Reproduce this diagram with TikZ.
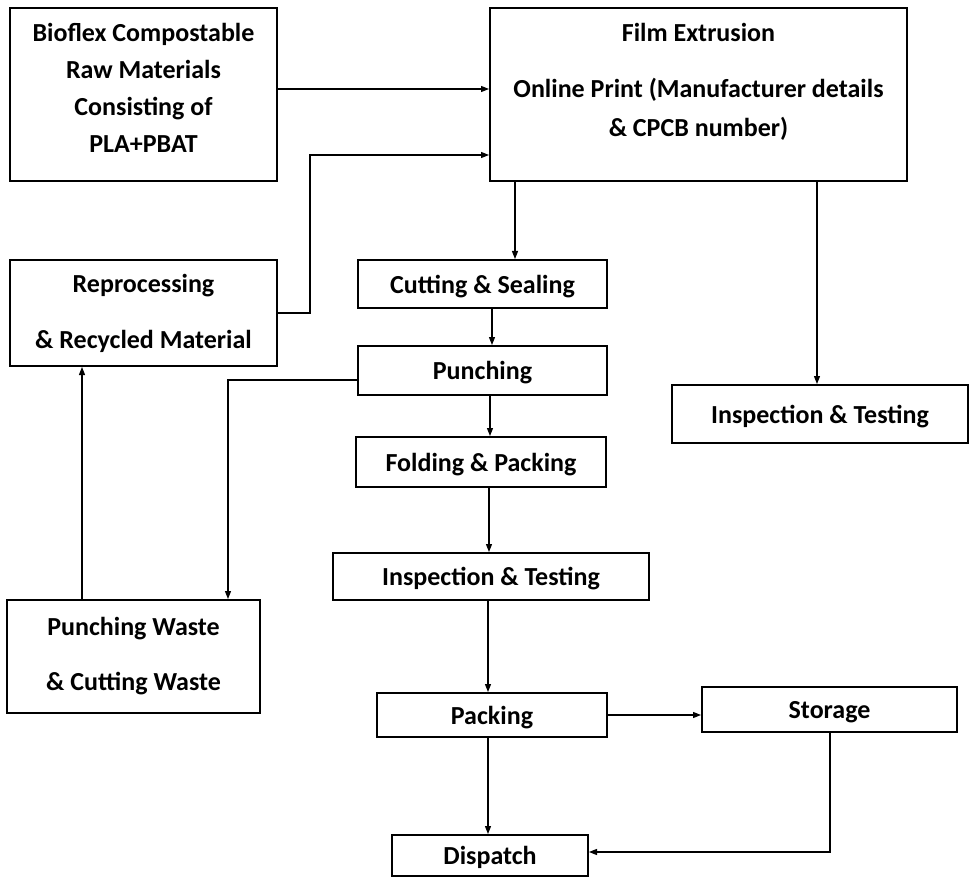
\documentclass[tikz,border=0pt]{standalone}
\usepackage{fontspec}
\setmainfont{Carlito}
\usetikzlibrary{arrows.meta}

\begin{document}
\begin{tikzpicture}[x=0.75pt,y=0.75pt,yscale=-1,xscale=1,
    box/.style={draw, line width=1.5pt, rectangle, align=center, inner sep=0pt, font=\bfseries\fontsize{19.5}{27.75}\selectfont},
    single/.style={text height=18pt, text depth=4pt},
    flow/.style={line width=0.9pt, -{Triangle[length=6pt,width=4.5pt]}}]
    \useasboundingbox (0,0) rectangle (978,877);

    %Shapes: Rectangles, top row
    \node[box, minimum width=200.25pt, minimum height=129.75pt] (raw) at (143.5,94.5) {};
    \node[align=center, inner sep=0pt, font=\bfseries\fontsize{19.5}{27.75}\selectfont] (rawtxt) at (143.5,88) {Bioflex Compostable\\Raw Materials\\Consisting of\\PLA+PBAT};
    \node[box, minimum width=312.75pt, minimum height=129.75pt] (film) at (698.5,94.5) {};
    \node[align=center, inner sep=0pt, font=\bfseries\fontsize{19.5}{29.25}\selectfont] (filmtxt) at (698.5,82) {Film Extrusion\\[12.75pt]Online Print (Manufacturer details\\\& CPCB number)};

    %Shapes: Rectangles, left column
    \node[box, minimum width=200.25pt, minimum height=79.5pt] (reproc) at (143.5,313) {Reprocessing\\[14.25pt]\& Recycled Material};
    \node[box, minimum width=189.75pt, minimum height=84.75pt] (waste) at (133.5,656.5) {Punching Waste\\[13.5pt]\& Cutting Waste};

    %Shapes: Rectangles, middle column
    \node[box, single, minimum width=186.75pt, minimum height=36pt] (cutting) at (482.5,284) {Cutting \& Sealing};
    \node[box, single, minimum width=186.75pt, minimum height=36.75pt] (punching) at (482.5,370.5) {Punching};
    \node[box, single, minimum width=187.5pt, minimum height=37.5pt] (folding) at (481,462) {Folding \& Packing};
    \node[box, single, minimum width=237pt, minimum height=35.25pt] (testC) at (491,576.5) {Inspection \& Testing};
    \node[box, single, minimum width=172.5pt, minimum height=33pt] (packing) at (492,715) {Packing};
    \node[box, single, minimum width=147pt, minimum height=30.75pt] (dispatch) at (490,855.5) {Dispatch};

    %Shapes: Rectangles, right column
    \node[box, single, minimum width=222pt, minimum height=43.5pt] (testR) at (820,414) {Inspection \& Testing};
    \node[box, single, minimum width=191.25pt, minimum height=33.75pt] (storage) at (829.5,709.5) {Storage};

    %Straight Lines
    \draw[flow] (raw.east |- 0,89) -- (film.west |- 0,89);
    \draw[flow] (reproc.east |- 0,313) -- (310,313) |- (film.west |- 0,155);
    \draw[flow] (film.south -| 515,0) -- (cutting.north -| 515,0);
    \draw[flow] (film.south -| 817,0) -- (testR.north -| 817,0);
    \draw[flow] (cutting.south -| 492,0) -- (punching.north -| 492,0);
    \draw[flow] (punching.south -| 490,0) -- (folding.north -| 490,0);
    \draw[flow] (folding.south -| 489,0) -- (testC.north -| 489,0);
    \draw[flow] (testC.south -| 488,0) -- (packing.north -| 488,0);
    \draw[flow] (packing.south -| 488,0) -- (dispatch.north -| 488,0);
    \draw[flow] (punching.west |- 0,380) -| (waste.north -| 228,0);
    \draw[flow] (waste.north -| 82,0) -- (reproc.south -| 82,0);
    \draw[flow] (packing.east |- 0,715) -- (storage.west |- 0,715);
    \draw[flow] (storage.south -| 830,0) |- (dispatch.east |- 0,852);

\end{tikzpicture}
\end{document}
